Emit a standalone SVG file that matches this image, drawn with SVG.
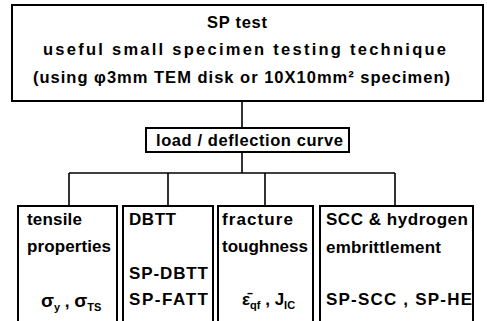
<svg xmlns="http://www.w3.org/2000/svg" width="487" height="321" viewBox="0 0 487 321">
<style>
.box{fill:#fff;stroke:#000;stroke-width:2}
.con{fill:none;stroke:#000;stroke-width:1.6}
text{font-family:"Liberation Sans",Arial,"DejaVu Sans",sans-serif;font-weight:bold;fill:#000}
.t{font-size:16.5px}
.b{font-size:17px}
.g{font-size:19px}
.sub{font-size:11px}
</style>
<rect width="487" height="321" fill="#fff"/>
<g id="connectors">
<path class="con" d="M242 101V128"/>
<path class="con" d="M242 152V173"/>
<path class="con" d="M69 173H395"/>
<path class="con" d="M69 173V206M168 173V206M265 173V206M395 173V206"/>
</g>
<g id="node-sp-test">
<rect class="box" x="12" y="5" width="471" height="96"/>
<text class="t" x="207" y="27.5" textLength="60" lengthAdjust="spacing">SP test</text>
<text class="t" x="43" y="54.5" textLength="403" lengthAdjust="spacing">useful small specimen testing technique</text>
<text class="t" x="33" y="83" textLength="417" lengthAdjust="spacing">(using φ3mm TEM disk or 10X10mm² specimen)</text>
</g>
<g id="node-load">
<rect class="box" x="146" y="128" width="203" height="24"/>
<text class="t" x="156" y="145.5" textLength="187" lengthAdjust="spacing">load / deflection curve</text>
</g>
<g id="node-tensile">
<rect class="box" x="18" y="206" width="99" height="130"/>
<text class="b" x="27" y="225" textLength="55" lengthAdjust="spacing">tensile</text>
<text class="b" x="27" y="252" textLength="84" lengthAdjust="spacing">properties</text>
<text class="b" x="41" y="307"><tspan class="g">σ</tspan><tspan class="sub" dy="4">y</tspan><tspan dy="-4"> , </tspan><tspan class="g">σ</tspan><tspan class="sub" dy="4">TS</tspan></text>
</g>
<g id="node-dbtt">
<rect class="box" x="123" y="206" width="90" height="130"/>
<text class="b" x="129" y="225" textLength="47" lengthAdjust="spacing">DBTT</text>
<text class="b" x="129" y="279" textLength="79" lengthAdjust="spacing">SP-DBTT</text>
<text class="b" x="129" y="305" textLength="79" lengthAdjust="spacing">SP-FATT</text>
</g>
<g id="node-fracture">
<rect class="box" x="218" y="206" width="95" height="130"/>
<text class="b" x="222" y="225" textLength="71" lengthAdjust="spacing">fracture</text>
<text class="b" x="222" y="252" textLength="86" lengthAdjust="spacing">toughness</text>
<text class="b" x="242" y="305">ε̄<tspan class="sub" dy="4">qf</tspan><tspan dy="-4"> , J</tspan><tspan class="sub" dy="4">IC</tspan></text>
</g>
<g id="node-scc">
<rect class="box" x="320" y="206" width="153" height="130"/>
<text class="b" x="326" y="225" textLength="142" lengthAdjust="spacing">SCC &amp; hydrogen</text>
<text class="b" x="326" y="253" textLength="115" lengthAdjust="spacing">embrittlement</text>
<text class="b" x="326" y="305" textLength="146" lengthAdjust="spacing">SP-SCC , SP-HE</text>
</g>
</svg>
